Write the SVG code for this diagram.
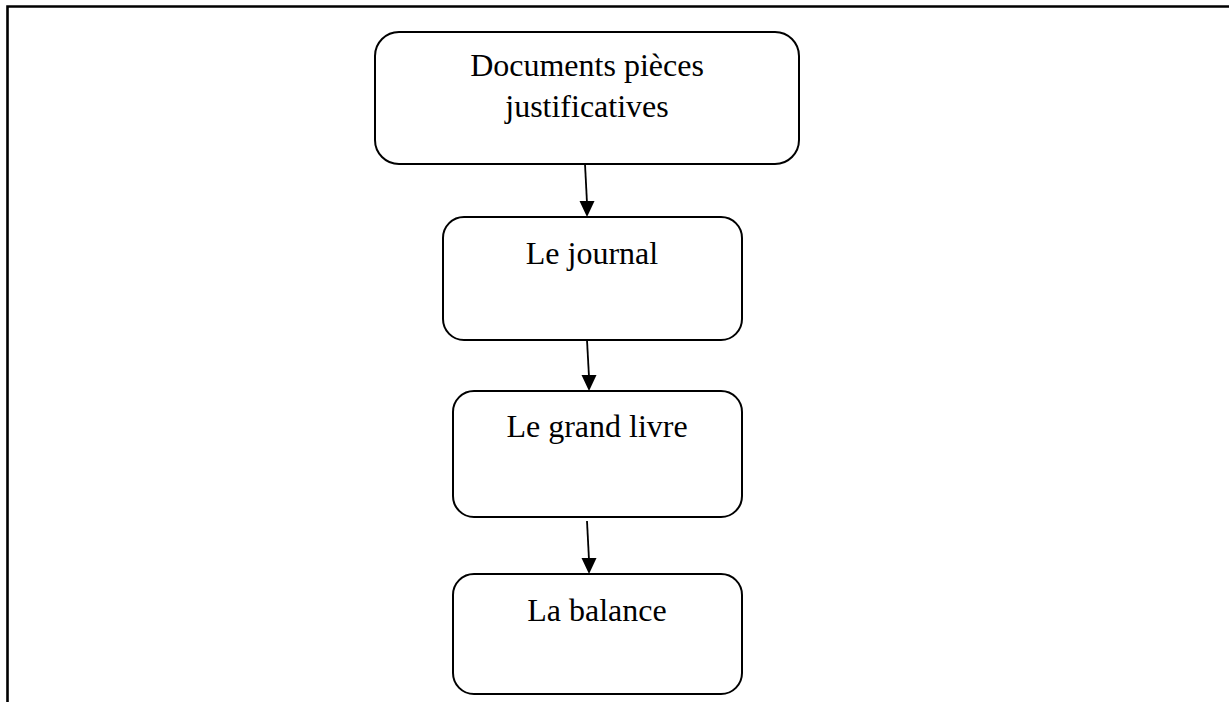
<svg xmlns="http://www.w3.org/2000/svg" width="1229" height="702" viewBox="0 0 1229 702">
  <style>
    .frame { fill: none; stroke: #000; stroke-width: 2.6; }
    .box { fill: #fff; stroke: #000; stroke-width: 2; }
    .label { font-family: "Liberation Serif", "Times New Roman", serif; font-size: 32px; fill: #000; text-anchor: middle; }
    .edge { fill: none; stroke: #000; stroke-width: 1.8; }
    .head { fill: #000; }
  </style>

  <rect width="1229" height="702" fill="#fff"/>

  <!-- page frame, open to the right and bottom -->
  <path class="frame" d="M7.5,702 L7.5,6.5 L1229,6.5"/>

  <g id="node-documents">
    <rect class="box" x="375" y="32" width="424" height="132" rx="24" ry="24"/>
    <text class="label" x="587" y="76">Documents pièces</text>
    <text class="label" x="587" y="117">justificatives</text>
  </g>

  <g id="node-journal">
    <rect class="box" x="443" y="217" width="299" height="123" rx="21" ry="21"/>
    <text class="label" x="592" y="264">Le journal</text>
  </g>

  <g id="node-grand-livre">
    <rect class="box" x="453" y="391" width="289" height="126" rx="21" ry="21"/>
    <text class="label" x="597" y="437">Le grand livre</text>
  </g>

  <g id="node-balance">
    <rect class="box" x="453" y="574" width="289" height="120" rx="21" ry="21"/>
    <text class="label" x="597" y="621">La balance</text>
  </g>

  <g id="connectors">
    <line class="edge" x1="585" y1="164" x2="587" y2="203"/>
    <path class="head" d="M579.5,201 L594.5,201 L587,217 Z"/>
    <line class="edge" x1="587" y1="340" x2="589" y2="377"/>
    <path class="head" d="M581.5,375 L596.5,375 L589,391 Z"/>
    <line class="edge" x1="587" y1="521" x2="589" y2="560"/>
    <path class="head" d="M581.5,558 L596.5,558 L589,574 Z"/>
  </g>
</svg>
